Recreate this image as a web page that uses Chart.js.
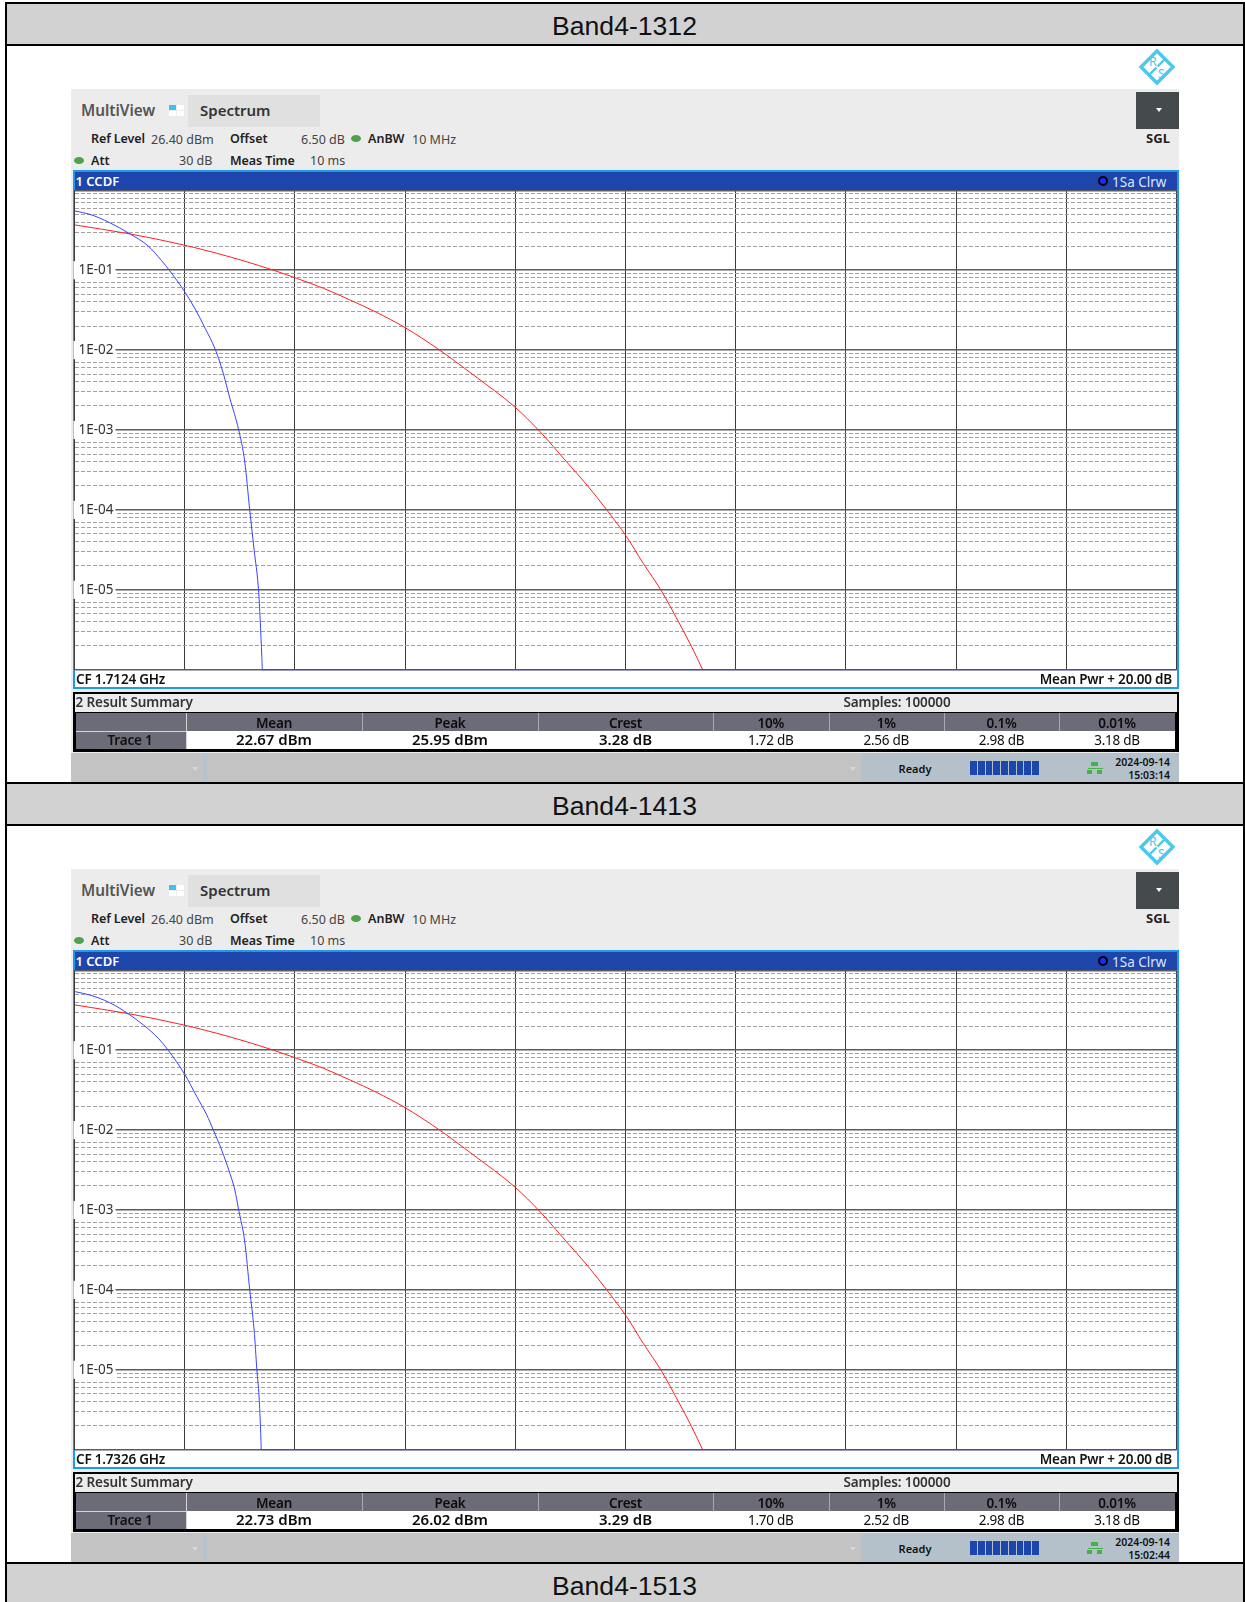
<!DOCTYPE html>
<html>
<head>
<meta charset="utf-8">
<title>Band4 CCDF</title>
<script src="https://cdn.jsdelivr.net/npm/chart.js@4"></script>
<style>
html, body { margin: 0; padding: 0; background: #fff; }
#page { position: relative; width: 1245px; height: 1602px; overflow: hidden; background: #fff; font-family: "Noto Sans", sans-serif; }
#page div, #page canvas, #page svg { position: absolute; }
.t { white-space: nowrap; line-height: 1; }
</style>
</head>
<body>
<div id="page"></div>
<script>
// band titles and per-sweep readouts
const bandTitles = ['Band4-1312', 'Band4-1413', 'Band4-1513'];
const cfLabels = ['CF 1.7124 GHz', 'CF 1.7326 GHz'];
const meanValues = ['22.67 dBm', '22.73 dBm'];
const peakValues = ['25.95 dBm', '26.02 dBm'];
const crestValues = ['3.28 dB', '3.29 dB'];
const pct10Values = ['1.72 dB', '1.70 dB'];
const pct1Values = ['2.56 dB', '2.52 dB'];
const pct01Values = ['2.98 dB', '2.98 dB'];
const pct001Values = ['3.18 dB', '3.18 dB'];
const dateLabels = ['2024-09-14', '2024-09-14'];
const timeLabels = ['15:03:14', '15:02:44'];
const summaryHeaders = ['Mean', 'Peak', 'Crest', '10%', '1%', '0.1%', '0.01%'];

// x axis: dB above mean power
const xTicksMin = 0, xTicksMax = 20, xTicksStep = 2;
const yMin = 1e-6, yMax = 1;

// trace 1, first sweep
const trace1Db = [0.01, 0.28, 0.64, 1.01, 1.34, 1.58, 1.72, 2.0, 2.19, 2.37, 2.56, 2.7, 2.82, 2.98, 3.09, 3.18, 3.26, 3.34, 3.37, 3.4, 3.41, 20];
const trace1Ccdf = [0.55, 0.5, 0.393, 0.284, 0.2, 0.132, 0.1, 0.0538, 0.0327, 0.0188, 0.01, 0.00513, 0.00249, 0.001, 0.0004, 0.0001, 0.0000315, 0.00001, 0.0000042, 0.00000145, 0.000001, 0.000001];
// trace 1, second sweep
const trace2Db = [0.01, 0.28, 0.64, 0.98, 1.25, 1.52, 1.7, 2.0, 2.22, 2.4, 2.52, 2.67, 2.82, 2.91, 2.98, 3.09, 3.18, 3.26, 3.31, 3.35, 3.38, 3.39, 20];
const trace2Ccdf = [0.54, 0.49, 0.393, 0.284, 0.207, 0.141, 0.1, 0.0499, 0.0262, 0.0155, 0.01, 0.00564, 0.00288, 0.00178, 0.001, 0.0004, 0.0001, 0.0000315, 0.00001, 0.0000046, 0.0000016, 0.000001, 0.000001];
// gaussian reference curve (same on both sweeps)
const refDb = [0.01, 1.01, 1.98, 2.58, 3.06, 3.61, 4.03, 4.52, 5.0, 5.48, 6.0, 6.6, 7.24, 8.0, 8.45, 8.93, 9.3, 9.66, 10.02, 10.32, 10.64, 10.96, 11.2, 11.4];
const refCcdf = [0.368, 0.284, 0.207, 0.163, 0.1315, 0.1, 0.0792, 0.0593, 0.0424, 0.0297, 0.0191, 0.0103, 0.00488, 0.00192, 0.00095, 0.0004, 0.000205, 0.0001, 0.0000462, 0.0000215, 0.00001, 0.000004, 0.00000194, 0.000001];

const traceDb = [trace1Db, trace2Db];
const traceCcdf = [trace1Ccdf, trace2Ccdf];

const page = document.getElementById('page');

function box(x, y, w, h, bg, extra) {
    const d = document.createElement('div');
    d.style.cssText = `left:${x}px;top:${y}px;width:${w}px;height:${h}px;background:${bg};` + (extra || '');
    page.appendChild(d);
    return d;
}

// text placed by its vertical centre; align l / c / r
function text(str, x, y, size, weight, color, align, spacing) {
    const d = document.createElement('div');
    d.className = 't';
    const tx = align === 'c' ? '-50%' : align === 'r' ? '-100%' : '0';
    d.style.cssText = `left:${x}px;top:${y}px;transform:translate(${tx},-50%);font-size:${size}px;font-weight:${weight};color:${color};letter-spacing:${spacing || 0}px;`;
    d.textContent = str;
    page.appendChild(d);
    return d;
}

function decade(value) {
    const e = Math.log10(value);
    const r = Math.round(e);
    return Math.abs(e - r) < 1e-6 ? r : null;
}

function isLabelled(value) {
    const d = decade(value);
    return d !== null && d <= -1 && d >= -5;
}

function drawChart(i, dy) {
    const canvas = document.createElement('canvas');
    canvas.width = 1112;
    canvas.height = 488;
    canvas.style.cssText = `left:70px;top:${186 + dy}px;width:1112px;height:488px;`;
    page.appendChild(canvas);

    new Chart(canvas.getContext('2d'), {
        type: 'line',
        data: {
            datasets: [
                {
                    data: refDb.map((x, k) => ({ x: x, y: refCcdf[k] })),
                    borderColor: '#ff2020',
                    borderWidth: 1,
                    pointRadius: 0,
                    cubicInterpolationMode: 'monotone',
                    order: 2
                },
                {
                    data: traceDb[i].map((x, k) => ({ x: x, y: traceCcdf[i][k] })),
                    borderColor: '#3a42ff',
                    borderWidth: 1,
                    pointRadius: 0,
                    cubicInterpolationMode: 'monotone',
                    clip: 2,
                    order: 1
                }
            ]
        },
        options: {
            responsive: false,
            animation: false,
            devicePixelRatio: 1,
            layout: { autoPadding: false, padding: { left: 4.5, right: 5.5, top: 4.3, bottom: 4.3 } },
            plugins: { legend: { display: false }, tooltip: { enabled: false } },
            scales: {
                x: {
                    type: 'linear',
                    min: xTicksMin,
                    max: xTicksMax,
                    ticks: { display: false, stepSize: xTicksStep },
                    grid: { color: '#3c3c3c', lineWidth: 1, drawTicks: false },
                    border: { display: false },
                    afterFit: scale => { scale.height = 0; scale.paddingLeft = 0; scale.paddingRight = 0; }
                },
                y: {
                    type: 'logarithmic',
                    min: yMin,
                    max: yMax,
                    afterFit: scale => { scale.width = 0; scale.paddingTop = 0; scale.paddingBottom = 0; },
                    afterBuildTicks: scale => {
                        const vals = [];
                        for (let e = -6; e < 0; e++) {
                            for (let m = 1; m < 10; m++) vals.push(Number(m + 'e' + e));
                        }
                        vals.push(1);
                        scale.ticks = vals.map(v => ({ value: v }));
                    },
                    ticks: {
                        autoSkip: false,
                        mirror: true,
                        padding: 4,
                        z: 1,
                        color: '#333',
                        font: { family: '"Noto Sans"', size: 13.5 },
                        showLabelBackdrop: ctx => isLabelled(ctx.tick.value),
                        backdropColor: '#fff',
                        backdropPadding: { left: 5, right: 2, top: 1, bottom: 1 },
                        callback: value => isLabelled(value) ? '1E-0' + Math.abs(decade(value)) : ''
                    },
                    grid: {
                        drawTicks: false,
                        color: ctx => decade(ctx.tick.value) !== null ? '#5c5c5c' : '#a0a0a0',
                        lineWidth: ctx => decade(ctx.tick.value) !== null ? 1.4 : 1
                    },
                    border: {
                        display: false,
                        dash: ctx => decade(ctx.tick.value) !== null ? [] : [4, 2]
                    }
                }
            }
        }
    });
}

function drawHeader(i, dy) {
    box(5, 2 + dy, 1240, 44, '#d2d2d2', 'border-top:2px solid #000;border-bottom:2px solid #000;box-sizing:border-box;');
    text(bandTitles[i], 624.5, 26 + dy, 26.6, 400, '#111', 'c').style.fontFamily = '"Liberation Sans", Arial, sans-serif';
}

function drawLogo(dy) {
    const ns = 'http://www.w3.org/2000/svg';
    const svg = document.createElementNS(ns, 'svg');
    svg.setAttribute('width', 40);
    svg.setAttribute('height', 40);
    svg.setAttribute('viewBox', '-20 -20 40 40');
    svg.style.cssText = `left:1137px;top:${47 + dy}px;`;
    svg.innerHTML = '<polygon points="0,-16 16,0 0,16 -16,0" fill="none" stroke="#4cc8ec" stroke-width="3.4"/>' +
        '<path d="M8,-8 L0.5,-0.5 M-8,8 L-0.5,0.5" stroke="#4cc8ec" stroke-width="2.4"/>' +
        '<text x="-4" y="-1.5" font-size="12.5" text-anchor="middle" fill="#4cc8ec" font-family="Noto Sans">R</text>' +
        '<text x="4.5" y="10.5" font-size="12.5" text-anchor="middle" fill="#4cc8ec" font-family="Noto Sans">S</text>';
    page.appendChild(svg);
}

// small down-pointing triangle used on the soft-key bar and the SGL button
function caret(x, y, w, h, color) {
    box(x, y, 0, 0, 'transparent', `border-left:${w / 2}px solid transparent;border-right:${w / 2}px solid transparent;border-top:${h}px solid ${color};`);
}

function drawPanel(i, dy) {
    const dark = '#222';
    drawHeader(i, dy);
    drawLogo(dy);

    // instrument window background
    box(71, 89 + dy, 1108, 664, '#ececec');
    box(169, 105 + dy, 7, 5, '#3fc0ee');
    box(177, 105 + dy, 7, 5, '#fff');
    box(169, 111 + dy, 7, 5, '#fff');
    box(177, 111 + dy, 7, 5, '#fff');
    box(188, 95 + dy, 132, 32, '#e0e0e0');
    text('MultiView', 81, 111 + dy, 15.3, 600, '#555');
    text('Spectrum', 200, 110 + dy, 15, 600, '#333');

    box(1136, 92 + dy, 43, 37, '#454a4c');
    caret(1155.5, 108 + dy, 7, 4, '#fff');
    text('SGL', 1158, 138 + dy, 13, 700, dark, 'c');

    text('Ref Level', 91, 139 + dy, 12.5, 600, dark, 'l', -0.1);
    text('26.40 dBm', 151, 139.5 + dy, 12.5, 400, '#444');
    text('Offset', 230, 139 + dy, 12.5, 600, dark);
    text('6.50 dB', 301, 139.5 + dy, 12.5, 400, '#444');
    box(351, 135 + dy, 10, 7, '#4ea24e', 'border-radius:50%;');
    text('AnBW', 368, 139 + dy, 12.5, 600, dark);
    text('10 MHz', 412, 139.5 + dy, 12.5, 400, '#444');
    box(74, 157 + dy, 10, 7, '#4ea24e', 'border-radius:50%;');
    text('Att', 91, 160.5 + dy, 12.5, 600, dark);
    text('30 dB', 179, 161 + dy, 12.5, 400, '#444');
    text('Meas Time', 230, 160.5 + dy, 12.5, 600, dark, 'l', -0.1);
    text('10 ms', 310, 161 + dy, 12.5, 400, '#444');

    // CCDF window
    box(73, 170 + dy, 1106, 519, '#fff', 'border:2px solid #1e9ae8;box-sizing:border-box;');
    box(75, 172 + dy, 1102, 18, '#1d45ab');
    text('1 CCDF', 75.5, 181 + dy, 13, 600, '#fff');
    box(1098, 176 + dy, 10, 10, '#1a2bff', 'border:2px solid #000;border-radius:50%;box-sizing:border-box;');
    text('1Sa Clrw', 1112, 182.5 + dy, 13.5, 400, '#dbe5f8');
    drawChart(i, dy);
    text(cfLabels[i], 76, 680 + dy, 13.5, 600, '#111', 'l', -0.2);
    text('Mean Pwr + 20.00 dB', 1172, 680 + dy, 13.5, 600, '#111', 'r', -0.2);

    // result summary
    box(73, 692 + dy, 1106, 60, '#000');
    box(75, 694 + dy, 1102, 18, '#ececec');
    text('2 Result Summary', 75.5, 703 + dy, 13.5, 600, '#333', 'l', -0.1);
    text('Samples: 100000', 897, 703 + dy, 13.5, 600, '#333', 'c', -0.1);
    box(76, 713 + dy, 1099, 18, '#6c6b78');
    box(76, 731 + dy, 110, 18, '#6c6b78');
    box(186, 731 + dy, 989, 18, '#fff');
    box(76, 731 + dy, 110, 1, '#d5d5d5');
    box(186, 713 + dy, 1, 36, '#d5d5d5');

    const colEdges = [186, 362, 538, 713, 828.5, 944, 1059, 1175];
    const rowValues = [meanValues, peakValues, crestValues, pct10Values, pct1Values, pct01Values, pct001Values];
    text('Trace 1', 130, 741 + dy, 13.5, 600, '#111', 'c', -0.2);
    summaryHeaders.forEach((h, c) => {
        const mid = (colEdges[c] + colEdges[c + 1]) / 2;
        if (c > 0) box(colEdges[c], 713 + dy, 1, 18, '#a9a9b0');
        text(h, mid, 723.5 + dy, 13.5, 600, '#0c0c0c', 'c', -0.2);
        const big = c < 3;
        text(rowValues[c][i], mid, (big ? 739 : 741) + dy, big ? 15 : 13.5, big ? 600 : 400, '#0c0c0c', 'c', big ? 0 : -0.3);
    });

    // status bar
    box(71, 753 + dy, 790, 30, '#c3c3c3');
    box(203, 753 + dy, 4, 30, '#b5c3ce');
    caret(192, 767 + dy, 7, 4, '#d8d8d8');
    caret(850, 767 + dy, 7, 4, '#d8d8d8');
    box(861, 753 + dy, 318, 30, '#b4c1cb');
    text('Ready', 915, 768 + dy, 11, 600, '#111', 'c');
    for (let s = 0; s < 9; s++) box(970 + s * 7.75, 760.5 + dy, 6.8, 14, '#1d46ac');
    box(1091, 762 + dy, 7, 4, '#46b04a');
    box(1088, 768 + dy, 15, 1, '#46b04a');
    box(1087, 770 + dy, 5, 4, '#46b04a');
    box(1097, 770 + dy, 5, 4, '#46b04a');
    text(dateLabels[i], 1170, 762 + dy, 10.5, 600, '#111', 'r');
    text(timeLabels[i], 1170, 775 + dy, 10.5, 600, '#111', 'r');
}

drawPanel(0, 0);
drawPanel(1, 780);
drawHeader(2, 1560);

// outer table borders
box(5, 2, 2, 1600, '#000');
box(1243, 2, 2, 1600, '#000');
</script>
</body>
</html>
